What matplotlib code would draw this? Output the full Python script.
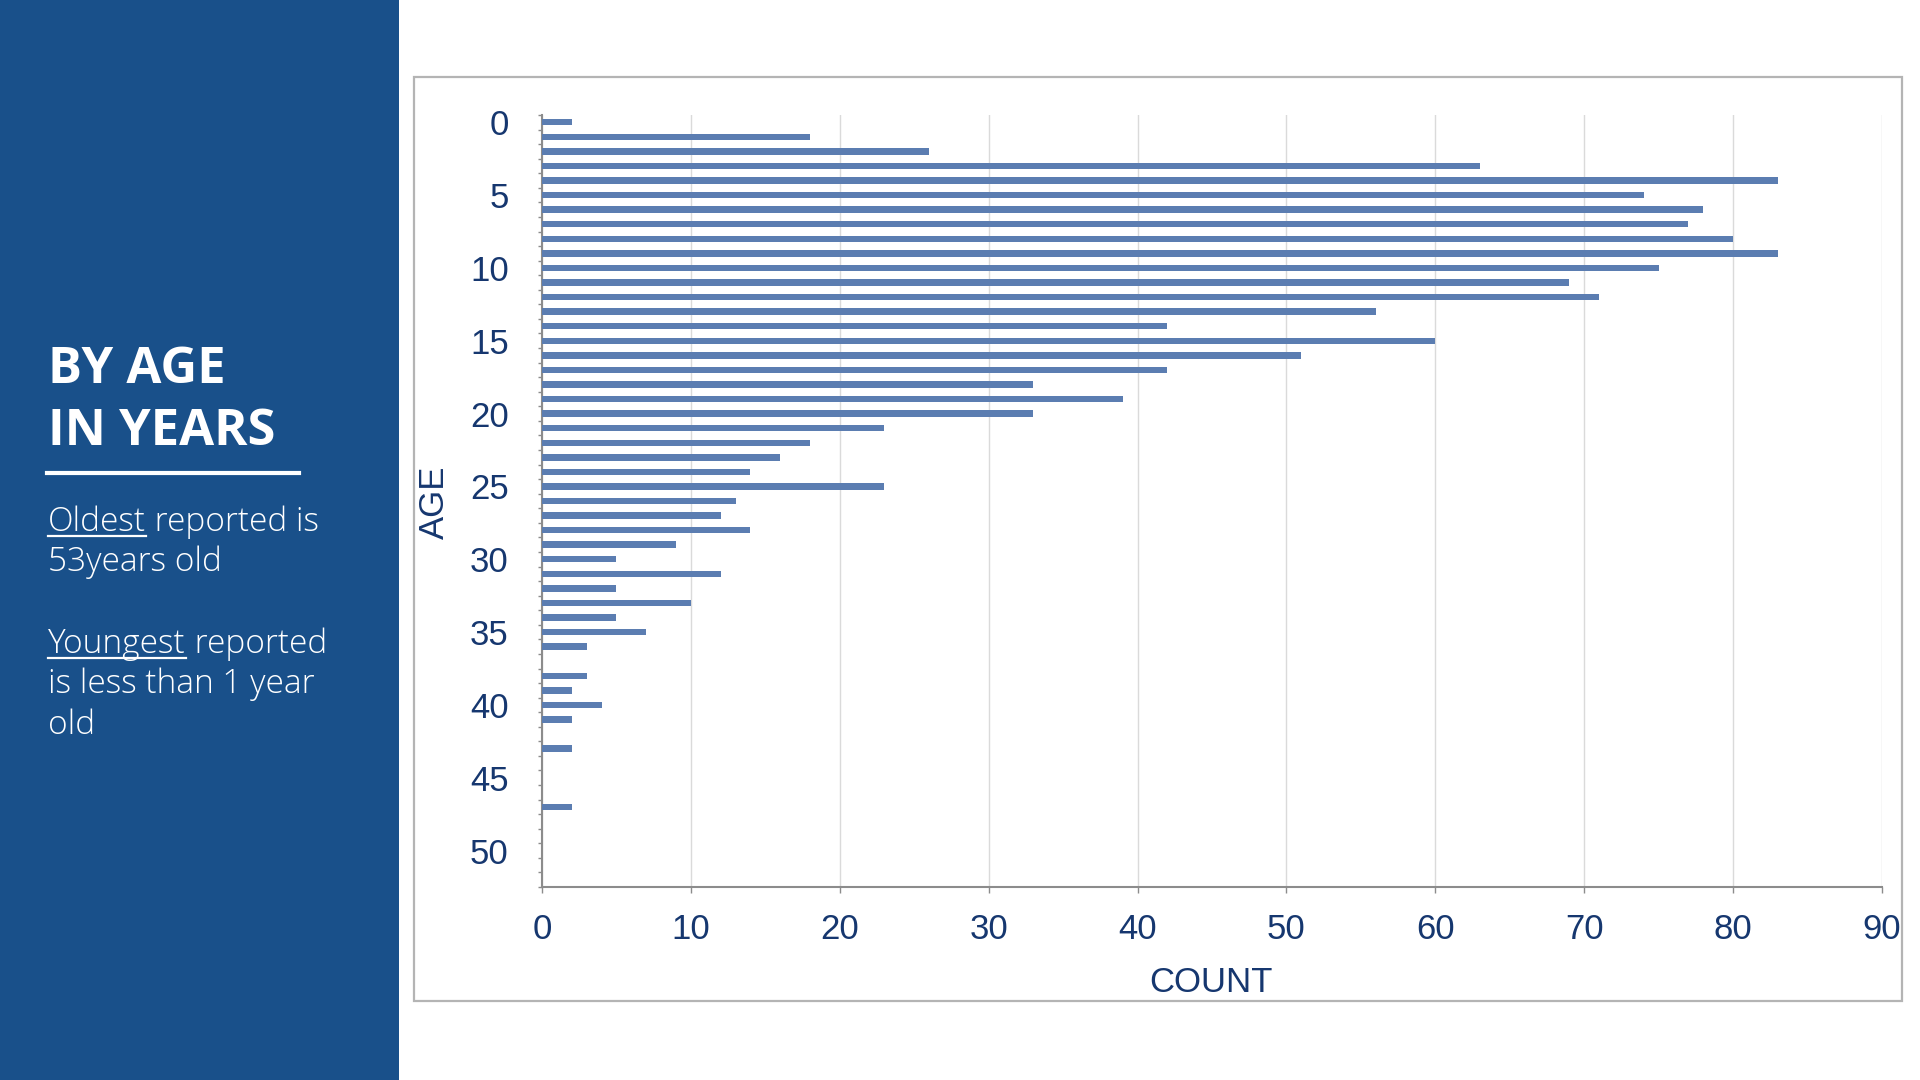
import numpy as np
import matplotlib
matplotlib.use('Agg')
import matplotlib.pyplot as plt
from matplotlib.patches import Rectangle
from matplotlib.lines import Line2D

# counts per age (age 0 .. 52)
ages = list(range(53))
counts = [2, 18, 26, 63, 83, 74, 78, 77, 80, 83,
          75, 69, 71, 56, 42, 60, 51, 42, 33, 39,
          33, 23, 18, 16, 14, 23, 13, 12, 14, 9,
          5, 12, 5, 10, 5, 7, 3, 0, 3, 2,
          4, 2, 0, 2, 0, 0, 0, 2, 0, 0,
          0, 0, 0]
y_ticks = [0, 5, 10, 15, 20, 25, 30, 35, 40, 45, 50]
x_ticks = [0, 10, 20, 30, 40, 50, 60, 70, 80, 90]

title_lines = ['BY AGE', 'IN YEARS']
note_lines = [('Oldest', ' reported is'), ('', '53years old'),
              ('Youngest', ' reported'), ('', 'is less than 1 year'), ('', 'old')]

W, H = 1920, 1080
panel_col = '#19508a'
navy = '#16376f'
bar_col = '#5b7db1'

fig = plt.figure(figsize=(W / 100, H / 100), dpi=100)
fig.patch.set_facecolor('white')

def fx(px):
    return px / W

def fy(py):
    return 1 - py / H

# left blue panel
fig.add_artist(Rectangle((0, 0), fx(399), 1, transform=fig.transFigure,
                         facecolor=panel_col, edgecolor='none', zorder=0))
# chart frame
fig.add_artist(Rectangle((fx(414), fy(1001)), fx(1902 - 414), (1001 - 77) / H,
                         transform=fig.transFigure, facecolor='white',
                         edgecolor='#b4b4b4', linewidth=1.6, zorder=0))

ax = fig.add_axes([fx(542), fy(887), fx(1882 - 542), (887 - 115) / H])
ax.barh(ages, counts, height=0.44, color=bar_col, zorder=3)
ax.set_ylim(52.5, -0.5)
ax.set_xlim(0, 90)
ax.set_xticks(x_ticks)
ax.set_yticks(y_ticks)
ax.set_yticks(np.arange(-0.5, 53, 1), minor=True)
ax.grid(axis='x', color='#dadada', linewidth=1.0, zorder=0)
for s in ['top', 'right']:
    ax.spines[s].set_visible(False)
for s in ['left', 'bottom']:
    ax.spines[s].set_color('#8c8c8c')
    ax.spines[s].set_linewidth(1.5)
ax.tick_params(axis='y', which='major', length=0, pad=24, labelsize=25,
               labelcolor=navy)
ax.tick_params(axis='y', which='minor', length=3, width=1, color='#8c8c8c')
ax.tick_params(axis='x', which='major', length=4, width=1, color='#8c8c8c',
               pad=15, labelsize=25, labelcolor=navy)
for lbl in ax.get_xticklabels() + ax.get_yticklabels():
    lbl.set_family('Liberation Sans')

fig.text(fx(434), fy(502), 'AGE', rotation=90, ha='center', va='center',
         fontsize=25, color=navy, family='Liberation Sans')
fig.text(fx(1211), fy(983), 'COUNT', ha='center', va='center',
         fontsize=25, color=navy, family='Liberation Sans')

# title and notes in the left panel
fig.text(fx(48), fy(383), title_lines[0], ha='left', va='baseline', fontsize=36.5,
         fontweight='bold', color='white', family='Open Sans')
fig.text(fx(48), fy(445), title_lines[1], ha='left', va='baseline', fontsize=36.5,
         fontweight='bold', color='white', family='Open Sans')
fig.add_artist(Line2D([fx(47), fx(299)], [fy(473), fy(473)], transform=fig.transFigure,
                      color='white', linewidth=3))

fig.canvas.draw()
r = fig.canvas.get_renderer()
baselines = [531, 571, 653, 693, 734]
for (ul, rest), b in zip(note_lines, baselines):
    x0 = fx(48)
    if ul:
        t = fig.text(x0, fy(b), ul, ha='left', va='baseline', fontsize=24,
                     fontweight='light', color='white', family='Open Sans')
        bb = t.get_window_extent(r)
        fig.add_artist(Line2D([bb.x0 / W, bb.x1 / W], [fy(b + 5), fy(b + 5)],
                              transform=fig.transFigure, color='white', linewidth=1.6))
        x0 = bb.x1 / W
    fig.text(x0, fy(b), rest, ha='left', va='baseline', fontsize=24,
             fontweight='light', color='white', family='Open Sans')

fig.savefig('out.png', dpi=100)
